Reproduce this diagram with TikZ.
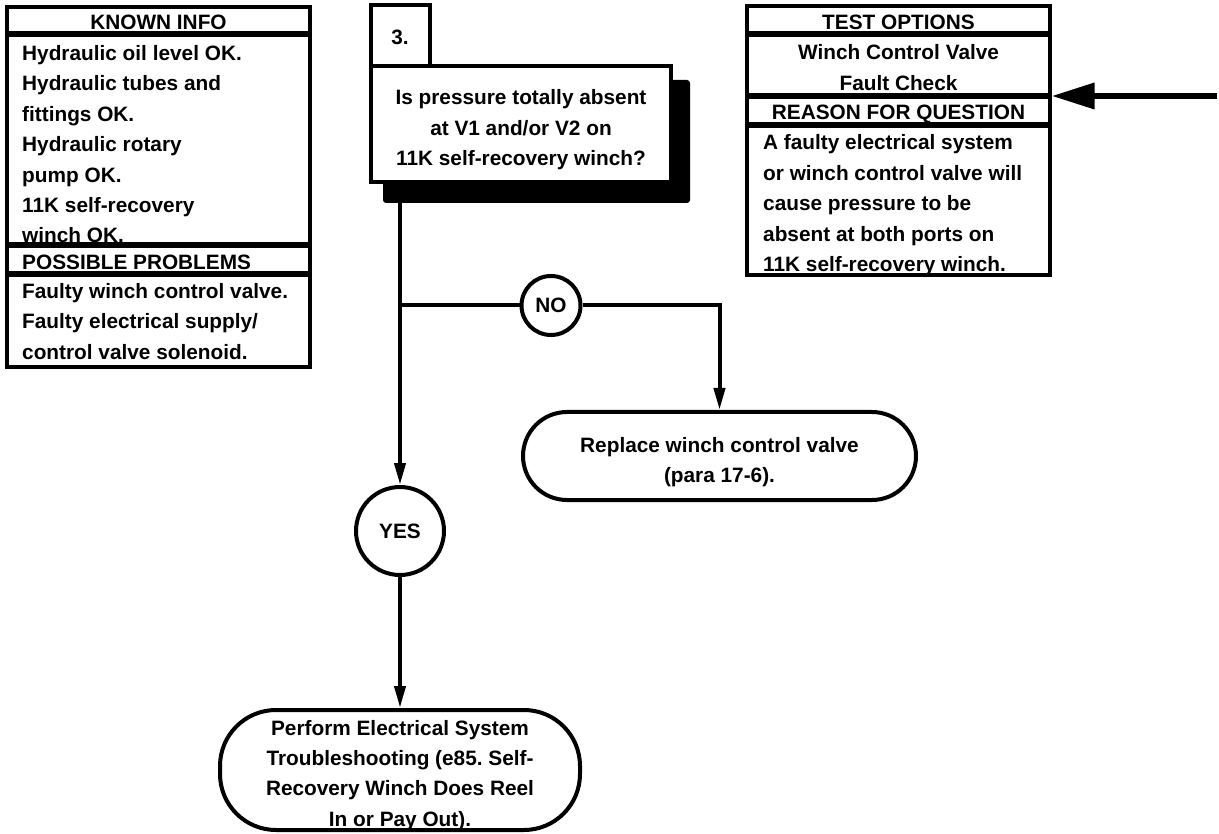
\documentclass[tikz,border=0pt]{standalone}
\usepackage{fontspec}
\setmainfont{Liberation Sans}
\usetikzlibrary{arrows.meta}
\frenchspacing
% stacked lines whose baseline is the baseline of the first line
\newcommand{\txtlines}[2]{\begin{tabular}[t]{@{}#1@{}}#2\end{tabular}}
\begin{document}
\begin{tikzpicture}[x=1pt,y=-1pt,
  txt/.style={inner sep=0pt, font=\fontsize{20.8}{30.4}\selectfont\bfseries},
  frame/.style={draw, line width=4pt, inner sep=0pt, fill=white},
  divider/.style={line width=6pt},
  flow/.style={line width=4pt},
  tip/.style={flow, -{Triangle[length=22pt,width=11pt]}},
  bigtip/.style={line width=6.5pt, -{Triangle[length=43pt,width=25pt]}},
  answer/.style={draw, circle, line width=4pt, inner sep=0pt,
    font=\fontsize{20.8}{24}\selectfont\bfseries},
  terminal/.style={draw, line width=4pt, inner sep=0pt}
]
\useasboundingbox (0,0) rectangle (1219,834);

% ---- known info / possible problems panel
\node[frame, minimum width=303pt, minimum height=360pt] (known) at (158.5,187) {};
\draw[divider] (known.west |- 0,34.5) -- (known.east |- 0,34.5);
\draw[divider] (known.west |- 0,245.5) -- (known.east |- 0,245.5);
\draw[divider] (known.west |- 0,274) -- (known.east |- 0,274);
\node[txt, anchor=base] (knownhead) at (158.5,30) {KNOWN INFO};
\node[txt, anchor=base west] (knownbody) at (22,60.5) {\txtlines{l}{%
  Hydraulic oil level OK.\\
  Hydraulic tubes and\\
  fittings OK.\\
  Hydraulic rotary\\
  pump OK.\\
  11K self-recovery\\
  winch OK.}};
\node[txt, anchor=base west] (probhead) at (22,270) {POSSIBLE PROBLEMS};
\node[txt, anchor=base west] (probbody) at (22,298.5) {\txtlines{l}{%
  Faulty winch control valve.\\
  Faulty electrical supply/\\
  control valve solenoid.}};

% ---- test options / reason panel
\node[frame, minimum width=302.5pt, minimum height=269pt] (tests) at (898.25,140.5) {};
\draw[divider] (tests.west |- 0,34) -- (tests.east |- 0,34);
\draw[divider] (tests.west |- 0,96.5) -- (tests.east |- 0,96.5);
\draw[divider] (tests.west |- 0,125.5) -- (tests.east |- 0,125.5);
\node[txt, anchor=base] (testhead) at (898.5,30) {TEST OPTIONS};
\node[txt, anchor=base] (testbody) at (898.5,60) {\txtlines{c}{%
  Winch Control Valve\\
  Fault Check}};
\node[txt, anchor=base] (reasonhead) at (898.5,119.5) {REASON FOR QUESTION};
\node[txt, anchor=base west] (reasonbody) at (763,150) {\txtlines{l}{%
  A faulty electrical system\\
  or winch control valve will\\
  cause pressure to be\\
  absent at both ports on\\
  11K self-recovery winch.}};

% ---- question 3 with its drop shadow
\node[fill=black, rounded corners=3pt, inner sep=0pt,
      minimum width=307pt, minimum height=123pt] (qshadow) at (536.5,141.5) {};
\node[frame, minimum width=300pt, minimum height=115.5pt] (question) at (520.5,124.25) {};
\node[frame, minimum width=59pt, minimum height=61pt] (num) at (400,36) {};
\node[txt, anchor=base] (numtext) at (400,45) {3.};
\node[txt, anchor=base] (qtext) at (521,105) {\txtlines{c}{%
  Is pressure totally absent\\
  at V1 and/or V2 on\\
  11K self-recovery winch?}};

% ---- answers
\node[answer, minimum size=59pt] (no) at (551,305.5) {NO};
\node[answer, minimum size=88pt] (yes) at (400,531) {YES};

% ---- outcomes
\node[terminal, rounded corners=44pt, minimum width=393pt, minimum height=88pt]
  (replace) at (719.5,456) {};
\node[txt, anchor=base] (replacetext) at (719.5,452) {\txtlines{c}{%
  Replace winch control valve\\
  (para 17-6).}};
\node[terminal, rounded corners=56pt, minimum width=360pt, minimum height=120pt]
  (perform) at (400,770) {};
\node[txt, anchor=base] (performtext) at (400,735) {\txtlines{c}{%
  Perform Electrical System\\
  Troubleshooting (e85. Self-\\
  Recovery Winch Does Reel\\
  In or Pay Out).}};

% ---- connectors
\coordinate (split) at (num.center |- no.center);
\coordinate (inlet) at (1217,96);
\draw[tip] (qshadow.south -| num.center) -- (yes);
\draw[flow] (split) -- (no);
\draw[tip] (no) -| (replace.north);
\draw[tip] (yes) -- (perform);
\draw[bigtip] (inlet) -- (tests.east |- inlet);
\end{tikzpicture}
\end{document}
